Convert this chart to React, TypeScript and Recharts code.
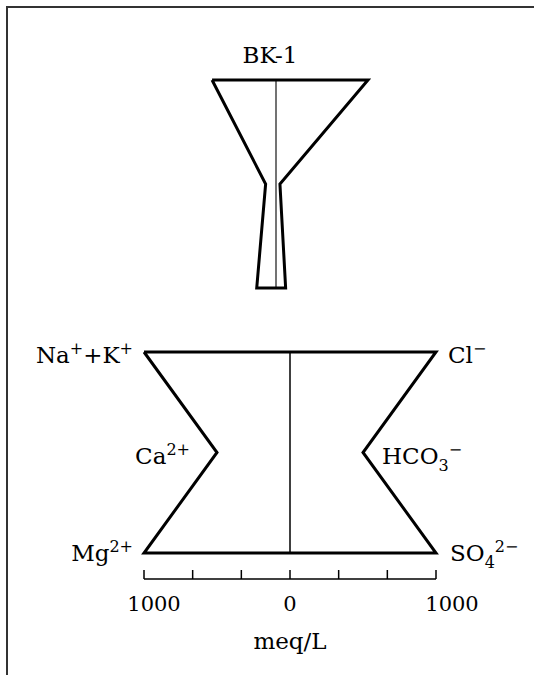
import { ScatterChart, Scatter, XAxis, YAxis, ReferenceLine } from "recharts";

const FONT = "'DejaVu Serif', 'Liberation Serif', serif";
const TEXT_SIZE = 23;
const DIGIT_SIZE = 21;
const SMALL_SIZE = 16;

// rows, top to bottom: Na+K / Cl, Ca / HCO3, Mg / SO4  (meq/L)
const sampleTitle = "BK-1";
const sampleCations = [438, 71, 132];
const sampleAnions = [630, 27, 66];

// key diagram under the sample
const keyCations = [1000, 500, 1000];
const keyAnions = [1000, 500, 1000];

// label pieces: [text, "sup" | "sub" | undefined]
const cationLabels: [string, string?][][] = [
  [["Na"], ["+", "sup"], ["+K"], ["+", "sup"]],
  [["Ca"], ["2+", "sup"]],
  [["Mg"], ["2+", "sup"]],
];
const anionLabels: [string, string?][][] = [
  [["Cl"], ["\u2212", "sup"]],
  [["HCO"], ["3", "sub"], ["\u2212", "sup"]],
  [["SO"], ["4", "sub"], ["2\u2212", "sup"]],
];

const scaleTicks = [-1000, -666.7, -333.3, 0, 333.3, 666.7, 1000];
const scaleTickLabels = ["1000", "", "", "0", "", "", "1000"];
const scaleTitle = "meq/L";

function stiffOutline(cat: number[], an: number[]) {
  const left = cat.map((v, i) => ({ x: -v, y: i }));
  const right = an.map((v, i) => ({ x: v, y: i })).reverse();
  return [...left, ...right, left[0]];
}

const keyLabelPoints = [
  ...cationLabels.map((parts, i) => ({ x: -keyCations[i], y: i, parts, side: "left" })),
  ...anionLabels.map((parts, i) => ({ x: keyAnions[i], y: i, parts, side: "right" })),
];

const NoDot = () => <g />;

// baseline offset per row and gap from the vertex
const rowBaseline = [11, 11.5, 7.5];
const leftGap = [11, 27, 11];
const rightGap = [12, 19, 14];

function IonLabel(props: any) {
  const { cx, cy, payload } = props;
  const left = payload.side === "left";
  const row = payload.y;
  const gap = left ? leftGap[row] : rightGap[row];
  let cur = 0;
  const spans = payload.parts.map(([t, kind]: [string, string?], i: number) => {
    const target = kind === "sup" ? -9 : kind === "sub" ? 7 : 0;
    const dy = target - cur;
    cur = target;
    return (
      <tspan key={i} dy={dy} fontSize={kind ? SMALL_SIZE : TEXT_SIZE}>
        {t}
      </tspan>
    );
  });
  return (
    <text
      x={left ? cx - gap : cx + gap}
      y={cy + rowBaseline[row]}
      textAnchor={left ? "end" : "start"}
      fontFamily={FONT}
      fontSize={TEXT_SIZE}
      fill="#000"
    >
      {spans}
    </text>
  );
}

function ScaleTick(props: any) {
  const { x, y, index } = props;
  const label = scaleTickLabels[index];
  const dx = index === 0 ? 10 : index === scaleTicks.length - 1 ? 16 : 0;
  return (
    <g>
      <line x1={x} y1={y} x2={x} y2={y - 9} stroke="#000" strokeWidth={1.5} />
      {label && (
        <text
          x={x + dx}
          y={y + 32}
          textAnchor="middle"
          fontFamily={FONT}
          fontSize={DIGIT_SIZE}
          fill="#000"
        >
          {label}
        </text>
      )}
    </g>
  );
}

export default function App() {
  return (
    <div
      style={{
        position: "absolute",
        left: 0,
        top: 0,
        width: 534,
        height: 675,
        background: "#fff",
        fontFamily: FONT,
      }}
    >
      <div
        style={{
          position: "absolute",
          left: 6,
          top: 6,
          width: 528,
          height: 669,
          borderLeft: "2px solid #333",
          borderTop: "2px solid #333",
        }}
      />
      <div
        style={{
          position: "absolute",
          left: 220,
          top: 44,
          width: 100,
          textAlign: "center",
          fontSize: TEXT_SIZE,
          lineHeight: `${TEXT_SIZE}px`,
        }}
      >
        {sampleTitle}
      </div>

      {/* sample diagram */}
      <div style={{ position: "absolute", left: 0, top: 0 }}>
        <ScatterChart width={534} height={300} margin={{ top: 80, right: 112, bottom: 12, left: 130 }}>
          <XAxis type="number" dataKey="x" domain={[-1000, 1000]} hide />
          <YAxis type="number" dataKey="y" domain={[0, 2]} reversed hide />
          <ReferenceLine
            segment={[{ x: 0, y: 0 }, { x: 0, y: 2 }]}
            stroke="#444"
            strokeWidth={1.5}
          />
          <Scatter
            data={stiffOutline(sampleCations, sampleAnions)}
            line={{ stroke: "#000", strokeWidth: 3 }}
            shape={NoDot}
            isAnimationActive={false}
          />
        </ScatterChart>
      </div>

      {/* key diagram with scale */}
      <div style={{ position: "absolute", left: 0, top: 300 }}>
        <ScatterChart width={534} height={375} margin={{ top: 52, right: 98, bottom: 26, left: 144 }}>
          <XAxis
            type="number"
            dataKey="x"
            domain={[-1000, 1000]}
            ticks={scaleTicks}
            interval={0}
            tickLine={false}
            tickSize={0}
            tickMargin={0}
            tick={<ScaleTick />}
            axisLine={{ stroke: "#000", strokeWidth: 1.5 }}
            height={70}
            label={{
              value: scaleTitle,
              position: "insideBottom",
              offset: 0,
              fill: "#000",
              fontSize: TEXT_SIZE,
              fontFamily: FONT,
            }}
          />
          <YAxis
            type="number"
            dataKey="y"
            domain={[0, 2]}
            reversed
            hide
            padding={{ top: 0, bottom: 26 }}
          />
          <ReferenceLine
            segment={[{ x: 0, y: 0 }, { x: 0, y: 2 }]}
            stroke="#000"
            strokeWidth={1.5}
          />
          <Scatter
            data={stiffOutline(keyCations, keyAnions)}
            line={{ stroke: "#000", strokeWidth: 3 }}
            shape={NoDot}
            isAnimationActive={false}
          />
          <Scatter data={keyLabelPoints} shape={<IonLabel />} isAnimationActive={false} />
        </ScatterChart>
      </div>
    </div>
  );
}
